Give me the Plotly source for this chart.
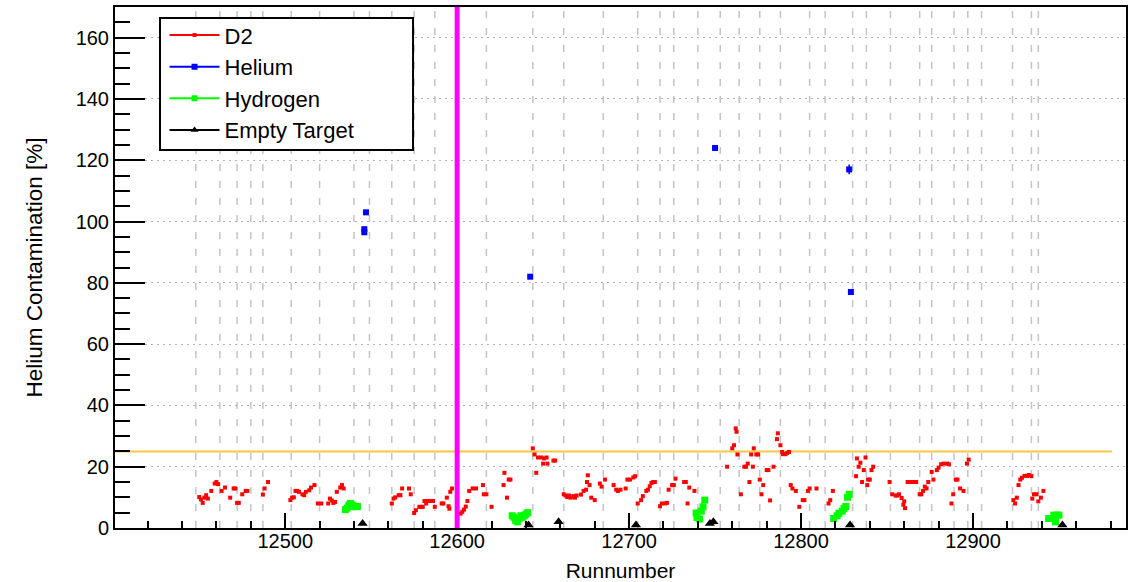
import plotly.graph_objects as go

# ---------------- data ----------------
d2_run = [12450, 12451, 12452, 12453, 12454, 12455, 12457, 12459, 12460, 12461, 12463, 12465,
          12468, 12470, 12471, 12472, 12473, 12475, 12477, 12478, 12487, 12488, 12490,
          12503, 12504, 12505, 12506, 12507, 12508, 12510, 12511, 12512, 12514, 12515, 12517,
          12519, 12521, 12525, 12526, 12527, 12528, 12529, 12530, 12532, 12533, 12534,
          12562, 12563, 12564, 12566, 12567, 12568, 12572, 12573, 12575, 12576, 12578, 12579,
          12580, 12581, 12582, 12583, 12585, 12586, 12587, 12591, 12592, 12594, 12595, 12595.5,
          12596, 12597, 12602, 12603, 12604, 12605, 12606, 12607, 12609, 12611, 12615, 12615.5,
          12617, 12620, 12627, 12627.5, 12629, 12630, 12631,
          12644, 12645, 12646, 12647, 12649, 12650, 12650.5, 12652, 12652.5, 12656, 12657,
          12662, 12663, 12664, 12665, 12666, 12667.5, 12668.5, 12669.5, 12672, 12673.5, 12675,
          12675.5, 12676, 12677, 12678, 12680, 12683, 12684, 12686, 12691, 12692.5, 12693.5,
          12695, 12698, 12699, 12700.5, 12702.5, 12703.5, 12705, 12707, 12708, 12710, 12711,
          12712, 12713, 12714, 12715, 12718, 12719, 12721, 12722, 12723, 12725, 12726, 12727,
          12732, 12733, 12734, 12735, 12738,
          12757, 12760, 12761, 12762, 12762.5, 12763, 12765, 12767, 12768, 12769, 12770, 12771,
          12772, 12772.5, 12774, 12775, 12776, 12777, 12778, 12780, 12781, 12782, 12784, 12786,
          12786.5, 12788, 12789, 12789.5, 12791, 12792, 12793, 12794, 12795, 12797, 12799,
          12801, 12802, 12804, 12805, 12809, 12816, 12817, 12818.5,
          12832, 12832.5, 12833.5, 12834.5, 12835.5, 12836.5, 12837.5, 12838.5, 12839, 12840,
          12841, 12842, 12851.5, 12853, 12855, 12856, 12857,
          12858.5, 12859.5, 12860, 12860.5, 12862, 12864, 12866, 12867, 12869, 12870, 12871,
          12872, 12873, 12874, 12876, 12877, 12879, 12880, 12881.5, 12883, 12885, 12886,
          12887.5, 12888.5, 12890, 12891, 12892.5, 12894.5, 12896.5, 12897.5,
          12923.5, 12924.5, 12925.5, 12926.5, 12927.5, 12928.5, 12930, 12931.5, 12932.5,
          12934, 12934.5, 12935.5, 12937, 12938, 12939.5, 12941]
d2_val = [10.1, 9.3, 8.2, 9.9, 10.7, 9.6, 12.1, 14.5, 15.0, 14.3, 12.1, 13.2,
          9.9, 12.9, 12.9, 8.2, 8.2, 11.0, 12.1, 12.1, 10.9, 12.9, 15.0,
          9.1, 9.9, 10.0, 12.1, 12.1, 11.8, 11.0, 10.7, 11.8, 12.3, 13.2, 14.0,
          8.0, 8.0, 8.0, 9.6, 9.0, 8.2, 8.5, 11.8, 13.2, 14.0, 12.9,
          8.0, 9.6, 10.0, 10.7, 10.7, 12.9, 12.9, 11.0, 4.9, 5.8, 6.9, 6.9,
          6.9, 8.8, 8.0, 8.8, 8.8, 8.8, 6.9, 8.0, 8.0, 9.9, 7.1, 6.3,
          11.8, 12.9, 4.7, 5.3, 6.0, 7.0, 8.8, 12.1, 12.9, 12.9, 14.0, 11.0,
          11.0, 6.9, 14.0, 18.0, 9.9, 15.8, 15.8,
          26.0, 24.0, 18.0, 23.0, 23.0, 21.0, 22.7, 23.0, 21.0, 22.0, 22.0,
          11.0, 10.6, 10.1, 10.6, 9.9, 10.4, 9.9, 10.6, 10.9, 12.1, 12.5,
          15.0, 17.2, 14.0, 9.9, 9.1, 14.5, 13.5, 15.8, 14.0, 12.5, 12.1,
          12.5, 12.9, 15.8, 15.8, 16.5, 16.9, 8.0, 9.1, 10.4, 12.1, 12.5,
          13.6, 14.7, 15.0, 15.0, 7.1, 8.0, 8.0, 8.2, 12.5, 14.0, 14.0, 16.1,
          15.0, 15.0, 8.0, 13.2, 12.1,
          20.0, 26.0, 27.0, 32.5, 31.4, 24.0, 11.0, 20.0, 20.0, 21.0, 15.0, 24.0,
          20.0, 26.0, 24.0, 24.0, 15.8, 11.0, 14.0, 18.9, 18.9, 9.0, 20.0, 29.0,
          30.9, 27.0, 24.8, 24.1, 24.1, 24.5, 24.8, 14.0, 12.9, 12.1, 6.9,
          9.1, 9.1, 12.1, 12.9, 12.9, 8.0, 9.1, 12.1,
          16.9, 22.7, 20.0, 21.3, 15.0, 18.9, 23.0, 14.0, 15.8, 15.8,
          18.9, 20.0, 15.0, 11.0, 10.6, 10.6, 11.0,
          9.8, 7.6, 8.7, 6.5, 15.0, 15.0, 15.0, 15.0, 11.0, 11.0, 12.1,
          13.5, 12.9, 15.0, 18.3, 15.8, 18.9, 19.7, 20.8, 21.0, 21.0, 20.8,
          8.0, 11.0, 15.8, 15.8, 12.9, 12.1, 21.0, 22.3,
          9.1, 8.0, 9.9, 14.0, 15.8, 16.4, 17.0, 17.0, 17.3,
          16.9, 9.6, 11.0, 11.0, 8.7, 9.9, 12.1]

he_run = [12546, 12546, 12547, 12642.5, 12750, 12828, 12829]
he_val = [96.5, 97.5, 103.0, 82.0, 124.0, 117.0, 77.0]
he_err = [0.6, 0.6, 0.4, 0.4, 0.4, 1.6, 0.4]

h2_run = [12535, 12536, 12537, 12538, 12539, 12540, 12541, 12542,
          12632, 12633, 12634, 12635, 12636, 12637, 12638, 12639, 12640, 12641,
          12739, 12739.5, 12741, 12742, 12743, 12744,
          12819, 12821, 12822, 12824, 12825, 12826, 12827, 12828,
          12944, 12945, 12947, 12948, 12949, 12950]
h2_val = [6.0, 6.5, 7.5, 8.0, 7.5, 7.0, 7.0, 7.0,
          4.0, 3.5, 2.5, 2.0, 3.0, 4.0, 3.5, 4.0, 4.5, 5.0,
          4.9, 3.4, 2.9, 5.5, 6.9, 9.1,
          3.1, 4.0, 4.8, 5.5, 6.4, 7.0, 10.0, 11.0,
          3.1, 3.1, 4.2, 2.0, 4.2, 4.2]

et_run = [12545, 12641.5, 12659, 12704, 12747, 12749, 12828.5, 12952]
et_val = [1.5, 1.0, 2.0, 1.0, 1.5, 2.0, 1.0, 1.0]

# boundaries (dashed markers), reference lines
boundary_runs = [12448, 12462, 12472, 12480, 12487, 12503.5, 12520, 12540, 12549, 12562,
                 12575, 12587, 12617, 12644, 12662, 12685, 12705, 12718, 12726, 12740,
                 12753, 12764, 12776, 12788, 12805, 12814, 12830, 12838, 12852, 12869,
                 12876, 12889, 12897, 12905, 12923, 12934, 12938]
cut_run = 12600
threshold = 25
threshold_span = [12400, 12981]

x_range = [12401, 12989]
y_range = [0, 170]
y_ticks = [0, 20, 40, 60, 80, 100, 120, 140, 160]
x_ticks = [12500, 12600, 12700, 12800, 12900]

FONT = "Liberation Sans, Arial, Helvetica, sans-serif"

fig = go.Figure()

for r in boundary_runs:
    fig.add_shape(type="line", xref="x", yref="paper", x0=r, x1=r, y0=0, y1=1,
                  line=dict(color="#c4c4c4", width=1.5, dash="7px,10px"), layer="between")

fig.add_shape(type="line", xref="x", yref="y", x0=threshold_span[0], x1=threshold_span[1],
              y0=threshold, y1=threshold, line=dict(color="#f6c744", width=2), layer="between")
fig.add_shape(type="line", xref="x", yref="paper", x0=cut_run, x1=cut_run, y0=0, y1=1,
              line=dict(color="#ff00ff", width=5), layer="above")
# legend frame
fig.add_shape(type="rect", xref="paper", yref="paper", x0=0.0445, x1=0.2948, y0=0.7255, y1=0.9789,
              line=dict(color="black", width=2), fillcolor="white", layer="above")

fig.add_trace(go.Scatter(x=d2_run, y=d2_val, mode="markers", showlegend=False,
                         marker=dict(symbol="square", size=4, color="#ff0000")))
fig.add_trace(go.Scatter(x=he_run, y=he_val, mode="markers", showlegend=False,
                         error_y=dict(type="data", array=he_err, color="#0000ff", thickness=1.5, width=0),
                         marker=dict(symbol="square", size=6, color="#0000ff")))
fig.add_trace(go.Scatter(x=h2_run, y=h2_val, mode="markers", showlegend=False,
                         marker=dict(symbol="square", size=7, color="#00ff00")))
fig.add_trace(go.Scatter(x=et_run, y=et_val, mode="markers", showlegend=False,
                         marker=dict(symbol="triangle-up", size=9, color="#000000")))

# legend entries
for name, col, sym, sz in [("D2", "#ff0000", "square", 4), ("Helium", "#0000ff", "square", 6),
                           ("Hydrogen", "#00ff00", "square", 6), ("Empty Target", "#000000", "triangle-up", 7)]:
    fig.add_trace(go.Scatter(x=[None], y=[None], mode="lines+markers", name=name,
                             line=dict(color=col, width=2),
                             marker=dict(symbol=sym, size=sz, color=col)))

fig.update_layout(
    width=1137, height=582,
    margin=dict(l=115, r=11, t=7, b=54, autoexpand=False),
    paper_bgcolor="white", plot_bgcolor="white",
    font=dict(family=FONT, size=20, color="black"),
    showlegend=True,
    legend=dict(x=0.049, y=0.986, xanchor="left", yanchor="top",
                bgcolor="rgba(0,0,0,0)", borderwidth=0, itemwidth=50,
                font=dict(family=FONT, size=22, color="black"), tracegroupgap=0),
)

fig.update_xaxes(range=x_range, tickvals=x_ticks, ticktext=[str(v) for v in x_ticks],
                 automargin=False,
                 ticks="inside", ticklen=15, tickwidth=2, tickcolor="black",
                 showline=True, linecolor="black", linewidth=2, mirror=True,
                 showgrid=False, zeroline=False, ticklabelstandoff=-6,
                 minor=dict(dtick=20, tick0=12400, ticks="inside", ticklen=7, tickwidth=2,
                            tickcolor="black", showgrid=False),
                 tickfont=dict(family=FONT, size=20, color="black"),
                 title=dict(text="Runnumber", font=dict(family=FONT, size=21, color="black"), standoff=13))
fig.update_yaxes(range=y_range, tickvals=y_ticks, ticktext=[str(v) for v in y_ticks],
                 automargin=False,
                 ticks="inside", ticklen=30, tickwidth=2, tickcolor="black",
                 showline=True, linecolor="black", linewidth=2, mirror=True,
                 showgrid=True, gridcolor="#b4b4b4", gridwidth=1, griddash="2px,4px",
                 zeroline=False,
                 minor=dict(dtick=5, tick0=0, ticks="inside", ticklen=15, tickwidth=2,
                            tickcolor="black", showgrid=False),
                 tickfont=dict(family=FONT, size=20, color="black"),
                 title=dict(text="Helium Contamination [%]", font=dict(family=FONT, size=22.5, color="black"),
                            standoff=27))

fig.write_html("out.html")
